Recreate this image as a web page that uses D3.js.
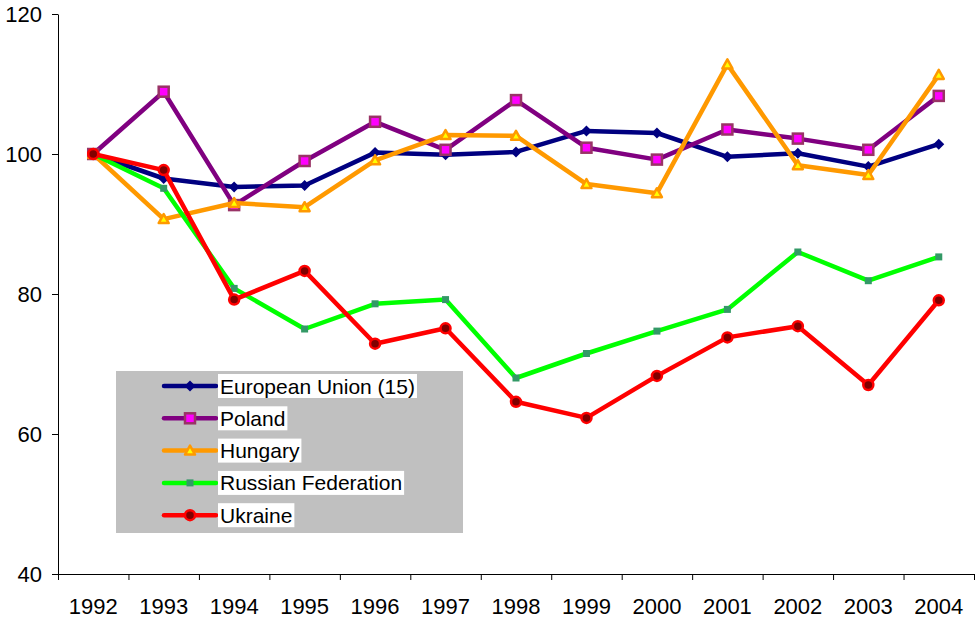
<!DOCTYPE html>
<html>
<head>
<meta charset="utf-8">
<script src="https://cdn.jsdelivr.net/npm/d3@7"></script>
<style>
  body { margin: 0; background: #fff; }
  svg { display: block; font-family: Arial, "Liberation Sans", sans-serif; }
</style>
</head>
<body>
<div id="chart"></div>
<script>
const years = ["1992", "1993", "1994", "1995", "1996", "1997", "1998", "1999", "2000", "2001", "2002", "2003", "2004"];
const yTicks = [40, 60, 80, 100, 120];

const euValues = [100, 96.5, 95.3, 95.5, 100.2, 99.9, 100.3, 103.3, 103, 99.6, 100.1, 98.2, 101.4];
const polandValues = [100, 108.9, 92.7, 99, 104.6, 100.6, 107.7, 100.9, 99.2, 103.5, 102.2, 100.6, 108.3];
const hungaryValues = [100, 90.7, 93, 92.4, 99.1, 102.7, 102.6, 95.7, 94.4, 112.8, 98.4, 97, 111.3];
const russiaValues = [100, 95.1, 80.8, 75, 78.6, 79.2, 68, 71.5, 74.7, 77.8, 86, 81.9, 85.3];
const ukraineValues = [100, 97.7, 79.2, 83.3, 72.9, 75.1, 64.6, 62.3, 68.3, 73.8, 75.4, 67, 79.1];

const series = [
  { name: "European Union (15)", values: euValues, line: "#000080", marker: "diamond", fill: "#000080", stroke: "#000080" },
  { name: "Poland", values: polandValues, line: "#800080", marker: "square", fill: "#FF00FF", stroke: "#993366" },
  { name: "Hungary", values: hungaryValues, line: "#FF9900", marker: "triangle", fill: "#FFFF00", stroke: "#FF9900" },
  { name: "Russian Federation", values: russiaValues, line: "#00FF00", marker: "smallsquare", fill: "#339966", stroke: "#339966" },
  { name: "Ukraine", values: ukraineValues, line: "#FF0000", marker: "circle", fill: "#800000", stroke: "#FF0000" },
];

const width = 975, height = 619;
const plotLeft = 58, plotRight = 974, plotTop = 14, plotBottom = 574;

const svg = d3.select("#chart").append("svg")
  .attr("width", width).attr("height", height);

const x = d3.scaleBand().domain(years).range([plotLeft, plotRight]);
const xEdge = d3.scaleLinear().domain([0, years.length]).range([plotLeft, plotRight]);
const y = d3.scaleLinear().domain([40, 120]).range([plotBottom, plotTop]);
const cx = (i) => x(years[i]) + x.bandwidth() / 2;

// axes
const yAxis = svg.append("g")
  .attr("transform", `translate(${plotLeft},0)`)
  .call(d3.axisLeft(y).tickValues(yTicks).tickSize(6).tickSizeOuter(0).tickPadding(10));
yAxis.selectAll("text").attr("font-size", 22).attr("fill", "#000").attr("font-family", null);

svg.append("g")
  .attr("transform", `translate(0,${plotBottom})`)
  .call(d3.axisBottom(xEdge).tickValues(d3.range(years.length + 1)).tickSize(6).tickSizeOuter(0).tickFormat(""));

const xLabelAxis = svg.append("g")
  .attr("transform", `translate(0,${plotBottom})`)
  .call(d3.axisBottom(x).tickSize(0).tickPadding(24));
xLabelAxis.select(".domain").remove();
xLabelAxis.selectAll("text").attr("font-size", 22).attr("fill", "#000").attr("font-family", null);

svg.selectAll(".domain, .tick line").attr("stroke", "#000").attr("stroke-width", 1);

// marker shapes
function drawMarker(g, s) {
  if (s.marker === "diamond") {
    g.append("path").attr("d", "M0,-5.5L5.5,0L0,5.5L-5.5,0Z").attr("fill", s.fill);
  } else if (s.marker === "square") {
    g.append("rect").attr("x", -5).attr("y", -5).attr("width", 10).attr("height", 10)
      .attr("fill", s.fill).attr("stroke", s.stroke).attr("stroke-width", 2.5);
  } else if (s.marker === "triangle") {
    g.append("path").attr("d", "M0,-5L5,4L-5,4Z")
      .attr("fill", s.fill).attr("stroke", s.stroke).attr("stroke-width", 2.5).attr("stroke-linejoin", "round");
  } else if (s.marker === "smallsquare") {
    g.append("rect").attr("x", -3.5).attr("y", -3.5).attr("width", 7).attr("height", 7)
      .attr("fill", s.fill);
  } else if (s.marker === "circle") {
    g.append("circle").attr("r", 5).attr("fill", s.fill).attr("stroke", s.stroke).attr("stroke-width", 2.5);
  }
}

const line = d3.line().x((d, i) => cx(i)).y((d) => y(d));

series.forEach((s) => {
  const g = svg.append("g").attr("class", "series");
  g.append("path")
    .attr("d", line(s.values))
    .attr("fill", "none")
    .attr("stroke", s.line)
    .attr("stroke-width", 4.5)
    .attr("stroke-linejoin", "round");
  s.values.forEach((v, i) => {
    const m = g.append("g").attr("transform", `translate(${cx(i)},${y(v)})`);
    drawMarker(m, s);
  });
});

// legend
const legend = svg.append("g").attr("transform", "translate(116,371)");
legend.append("rect").attr("width", 347).attr("height", 162).attr("fill", "#C0C0C0");

series.forEach((s, i) => {
  const row = legend.append("g").attr("transform", `translate(0,${15 + i * 32.3})`);
  row.append("line").attr("x1", 48).attr("x2", 100).attr("stroke", s.line)
    .attr("stroke-width", 4.5).attr("stroke-linecap", "round");
  drawMarker(row.append("g").attr("transform", "translate(74,0)"), s);
  const bg = row.append("rect").attr("fill", "#fff");
  const t = row.append("text").attr("x", 104).attr("dy", "0.36em")
    .attr("font-size", 21).attr("fill", "#000").text(s.name);
  const w = t.node().getComputedTextLength();
  bg.attr("x", 102).attr("y", -12).attr("width", w + 4).attr("height", 24);
});
</script>
</body>
</html>
